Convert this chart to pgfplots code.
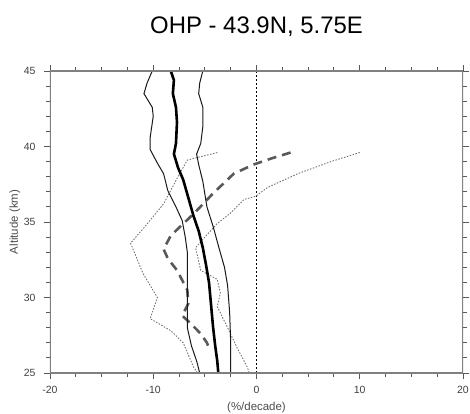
\documentclass[border=0pt]{standalone}
\usepackage{pgfplots}
\pgfplotsset{compat=1.18}
\usepackage{fontspec}
\setmainfont{Liberation Sans}
\begin{document}
\begin{tikzpicture}
\path[use as bounding box] (-50bp,-41bp) rectangle (420bp,373bp);
\begin{axis}[at={(0,0)}, anchor=south west, scale only axis,
  width=413bp, height=302bp,
  xmin=-20, xmax=20, ymin=25, ymax=45,
  xtick={-20,-10,0,10,20}, minor x tick num=3,
  ytick={25,30,35,40,45}, minor y tick num=4,
  tick align=outside, tick pos=both,
  major tick length=6bp, minor tick length=4bp,
  axis line style={draw=none},
  every tick/.style={black!65, line width=0.9bp},
  tick label style={font=\fontsize{10.5}{11}\selectfont, text=black!75},
  xticklabel style={yshift=-4bp},
  yticklabel style={xshift=-5bp},
  /pgf/number format/assume math mode=true,
  xlabel={(\%/decade)}, ylabel={Altitude (km)},
  label style={font=\fontsize{11.5}{12}\selectfont, text=black!70},
  xlabel style={at={(axis description cs:0.5,-0.116)}, anchor=center},
  ylabel style={at={(axis description cs:-0.085,0.5)}, anchor=center},
  title={OHP - 43.9N, 5.75E},
  title style={font=\fontsize{24}{26}\selectfont, at={(axis description cs:0.5,1.126)}, anchor=center},
]
% zero line
\addplot[black, line width=0.8bp, dash pattern=on 2bp off 2bp] coordinates {(0,25) (0,45)};
% left dotted
\addplot[black!55, line width=0.9bp, dash pattern=on 1.5bp off 1.5bp] coordinates {
(-3.8,39.6) (-6.7,39.1) (-7.6,38.0) (-9.0,36.2) (-10.8,34.7) (-12.2,33.6)
(-11.0,31.6) (-9.6,30.0) (-10.0,29.2) (-10.3,28.6) (-8.3,27.8) (-7.1,27.0)
(-6.1,25.4) (-5.7,25.0)};
% right dotted
\addplot[black!55, line width=0.9bp, dash pattern=on 1.5bp off 1.5bp] coordinates {
(10.0,39.6) (7.2,39.0) (4.0,38.2) (1.1,37.3) (-0.1,36.7) (-1.2,36.5) (-2.5,35.6)
(-3.8,34.9) (-5.0,34.0) (-5.9,33.3) (-5.4,31.8) (-3.8,31.2) (-3.5,30.3)
(-3.8,29.4) (-2.8,28.0) (-1.9,26.7) (-0.9,25.4) (-0.7,25.0)};
% thick dashed
\addplot[black!65, line width=2.6bp, dash pattern=on 9bp off 6bp] coordinates {
(3.3,39.6) (1.4,39.2) (-0.3,38.8) (-2.2,38.2) (-4.2,36.9) (-6.0,35.6) (-8.3,34.1)
(-9.0,33.2) (-8.6,32.6) (-7.7,31.8) (-6.7,30.5) (-6.6,29.6) (-7.2,28.8)
(-6.4,28.3) (-5.4,27.6) (-4.8,27.0) (-4.5,26.5)};
% left thin solid
\addplot[black!90, line width=1.0bp] coordinates {
(-10.1,45) (-10.6,44.2) (-10.9,43.5) (-10.1,42.6) (-10.0,42.0) (-10.3,40.6)
(-10.3,39.8) (-9.6,38.9) (-9.0,38.2) (-8.6,37.1) (-7.8,36.0) (-7.2,35.1)
(-6.9,34.0) (-6.7,33.0) (-6.7,30.0) (-6.7,28.0) (-6.3,26.8) (-5.8,25.8) (-5.5,25)};
% right thin solid
\addplot[black!90, line width=1.0bp] coordinates {
(-5.2,45) (-5.5,44.2) (-5.6,43.5) (-5.2,42.6) (-5.2,41.3) (-5.4,40.2) (-5.8,39.5)
(-5.6,38.8) (-5.2,37.7) (-4.8,36.0) (-4.2,34.7) (-3.6,33.2) (-3.1,32.0)
(-2.8,30.8) (-2.6,29.0) (-2.5,27.0) (-2.5,25)};
% thick mean
\addplot[black, line width=2.6bp] coordinates {
(-8.3,45) (-8.0,44.4) (-8.1,43.5) (-7.8,42.6) (-7.7,41.6) (-7.8,40.2) (-8.0,39.5)
(-7.6,38.6) (-7.1,37.8) (-6.6,36.6) (-6.1,35.4) (-5.6,34.4) (-5.2,33.3)
(-4.9,32.2) (-4.6,31.0) (-4.4,29.5) (-4.2,28.0) (-4.0,26.8) (-3.8,25.8) (-3.7,25)};
\draw[black!50, line width=1.6bp] (rel axis cs:0,0) rectangle (rel axis cs:1,1);
\end{axis}
\end{tikzpicture}
\end{document}
